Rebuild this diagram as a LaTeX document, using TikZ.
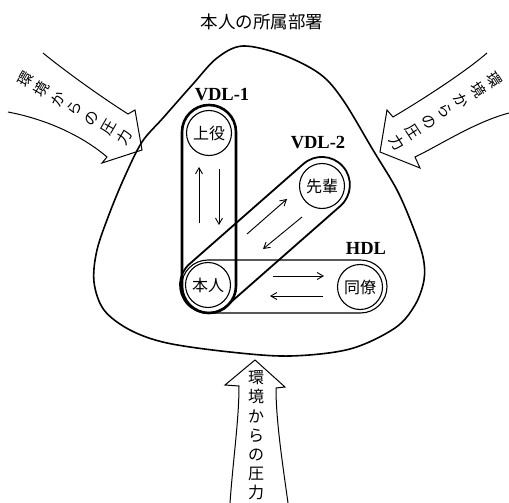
\documentclass[tikz,border=0pt]{standalone}
\usepackage{fontspec}
\setmainfont{Liberation Serif}
\newfontfamily\cjk{Noto Sans CJK JP}
\usetikzlibrary{arrows.meta}
\begin{document}
\begin{tikzpicture}[x=1pt,y=-1pt,
  every node/.style={inner sep=0pt},
  person/.style={circle,draw,line width=1.1pt,minimum size=45pt,fill=white,font=\cjk\fontsize{16}{16}\selectfont},
  grp/.style={font=\bfseries\fontsize{18.5}{18.5}\selectfont},
  rel/.style={line width=0.9pt,-{Straight Barb[length=6pt,width=7pt]}},
  press/.style={line width=1pt,line join=miter},
  pch/.style={align=center,font=\cjk\fontsize{15}{19.2}\selectfont},
  bch/.style={align=center,font=\cjk\fontsize{16}{19.2}\selectfont}]
\useasboundingbox (0,0) rectangle (509,503);

% title
\node[font=\cjk\fontsize{17.5}{17.5}\selectfont] (title) at (262,22) {本人の所属部署};

% department outline
\draw[line width=1.6pt] plot[smooth cycle, tension=0.55] coordinates {
 (243,46) (283,55) (320,74) (343,100) (373,150) (397,190) (413,227) (423,257)
 (424,280) (415,305) (395,328) (350,349) (290,356) (230,352) (167,343) (130,330)
 (104,310) (94,282) (97,250) (110,212) (125,176) (142,142) (163,118) (193,84) (217,58)};

% pressure arrows
\draw[press] (43,53) .. controls (60,67) and (95,93) .. (128,114) -- (135,110) -- (142,150)
  -- (102,163) -- (107,157) .. controls (85,138) and (50,120) .. (8,112);
\draw[press] (487,53) .. controls (465,72) and (425,98) .. (393,117) -- (387,110) -- (380,152)
  -- (420,168) -- (415,157) .. controls (440,145) and (475,122) .. (509,113);
\draw[press] (230,503) .. controls (233,460) and (239,420) .. (239,386) -- (225,385) -- (255,360)
  -- (285,387) -- (276,388) .. controls (276,420) and (282,460) .. (288,503);

% texts in the pressure arrows
\node[pch,rotate=60] (ltext) at (75,108.5) {環\\境\\か\\ら\\の\\圧\\力};
\node[pch,rotate=-56.9] (rtext) at (445.5,111) {環\\境\\か\\ら\\の\\圧\\力};
\node[bch] (btext) at (256,435.5) {環\\境\\か\\ら\\の\\圧\\力};

% groups
\draw[line width=1.1pt, rounded corners=26.5pt] (181.5,260) rectangle (387,313);
\begin{scope}[shift={(208,285)}, rotate=41.3]
  \draw[line width=1.8pt, rounded corners=28pt] (-28,-28) rectangle (179.6,28);
\end{scope}
\draw[line width=2.6pt, rounded corners=27pt] (182,105) rectangle (236,313);

% persons
\node[person] (boss) at (209,133) {上役};
\node[person] (senior) at (322,186) {先輩};
\node[person] (self) at (208,285) {本人};
\node[person] (peer) at (360,287) {同僚};

% labels
\node[grp] (vdl1) at (222,95) {VDL-1};
\node[grp] (vdl2) at (318,143) {VDL-2};
\node[grp] (hdl) at (366,248) {HDL};

% relation arrows
\coordinate (a1s) at (199,223); \coordinate (a1e) at (199,167);
\coordinate (a2s) at (219,169); \coordinate (a2e) at (219,225);
\coordinate (a3s) at (247,234); \coordinate (a3e) at (287,199);
\coordinate (a4s) at (302,217); \coordinate (a4e) at (263,249);
\coordinate (a5s) at (273,276); \coordinate (a5e) at (324,276);
\coordinate (a6s) at (323,296); \coordinate (a6e) at (270,296);
\draw[rel] (a1s) -- (a1e);
\draw[rel] (a2s) -- (a2e);
\draw[rel] (a3s) -- (a3e);
\draw[rel] (a4s) -- (a4e);
\draw[rel] (a5s) -- (a5e);
\draw[rel] (a6s) -- (a6e);
\end{tikzpicture}
\end{document}
